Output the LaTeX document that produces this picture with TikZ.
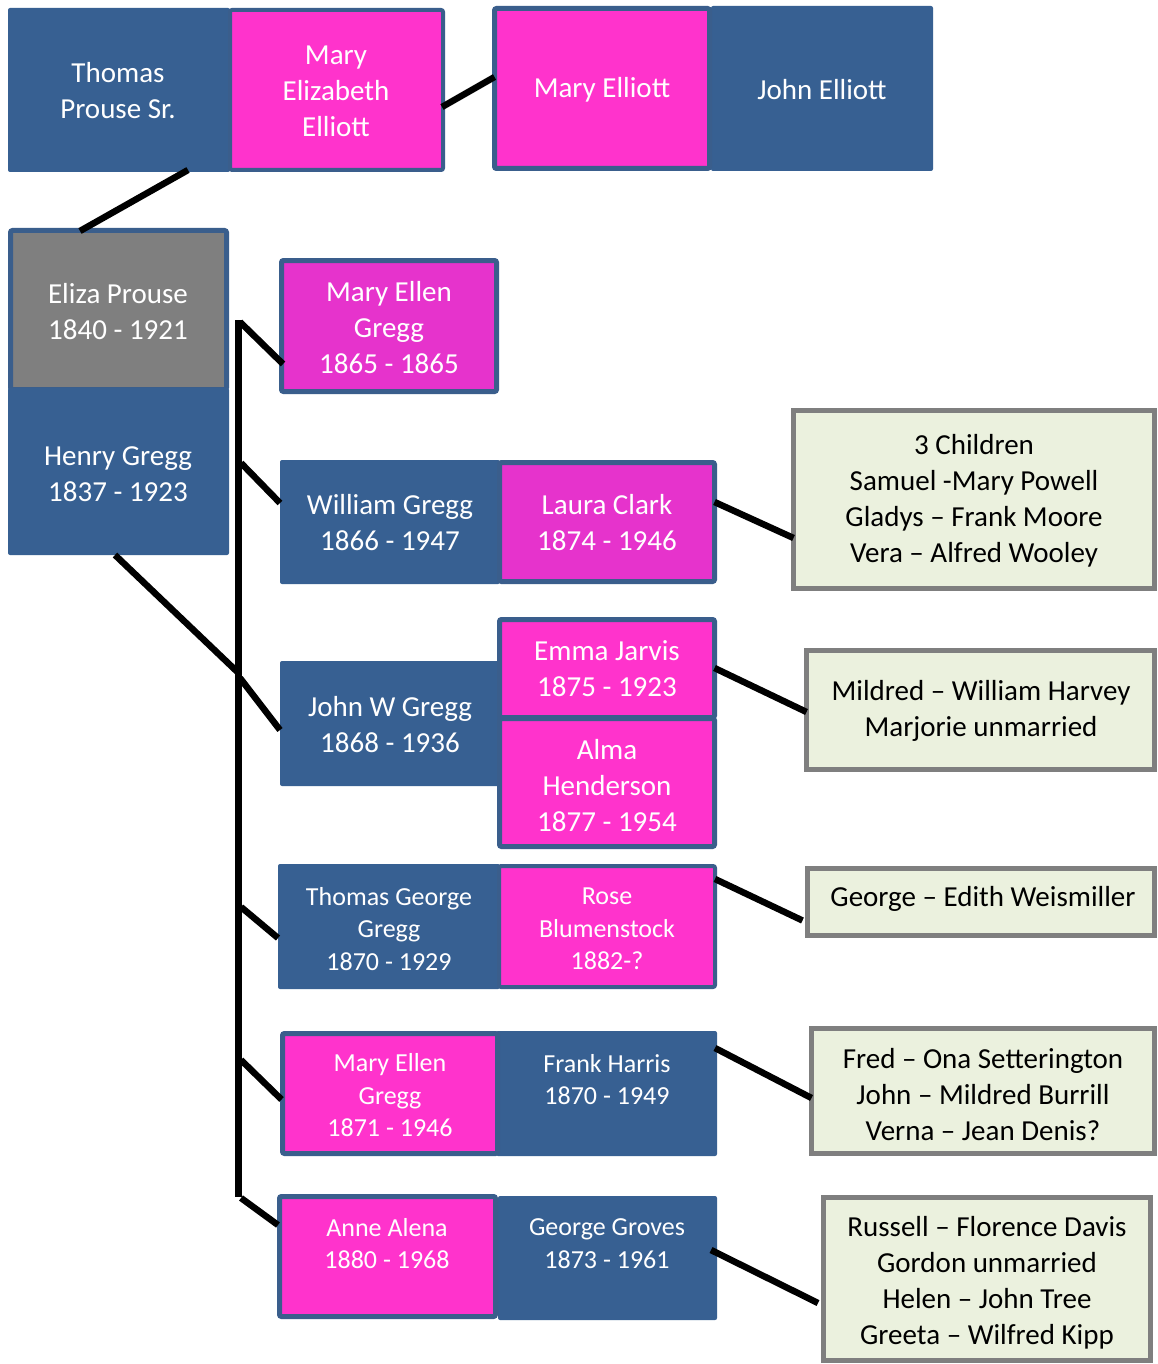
\documentclass[tikz,border=0pt]{standalone}
\usepackage{fontspec}
\setmainfont{Carlito}
\usetikzlibrary{calc}
\definecolor{fblue}{HTML}{376092}
\definecolor{bblue}{HTML}{3A5E8C}
\definecolor{pinka}{HTML}{FF33CC}
\definecolor{pinkb}{HTML}{E633CC}
\definecolor{fgray}{HTML}{7F7F7F}
\definecolor{fgreen}{HTML}{EBF1DE}
\definecolor{bgray}{HTML}{7F7F7F}
\begin{document}
\begin{tikzpicture}[x=1pt,y=-1pt,
 box/.style={rectangle, anchor=north west, inner sep=0pt, outer sep=0pt, rounded corners=2pt},
 bluebox/.style={box, fill=fblue},
 pinkbox/.style={box, fill=pinka, draw=bblue, line width=5pt},
 pinkboxb/.style={box, fill=pinkb, draw=bblue, line width=5pt},
 graybox/.style={box, fill=fgray, draw=bblue, line width=5pt},
 notebox/.style={box, fill=fgreen, draw=bgray, line width=5pt, rounded corners=0pt},
 lbl/.style={align=center, inner sep=0pt, text=white, font=\fontsize{29}{36}\selectfont},
 lbls/.style={align=center, inner sep=0pt, text=white, font=\fontsize{26}{32.5}\selectfont},
 lbln/.style={align=center, inner sep=0pt, text=black, font=\fontsize{29}{36}\selectfont},
 link/.style={line width=6.5pt, black},
]
\useasboundingbox (0,0) rectangle (1157,1364);
\fill[white] (0,0) rectangle (1157,1364);

% boxes
\node[bluebox, minimum width=222pt, minimum height=164pt] (thomas) at (8,8) {};
\node[pinkbox, line width=4pt, minimum width=213pt, minimum height=160pt] (maryeliz) at (230,10) {};
\node[bluebox, minimum width=222pt, minimum height=165pt] (johnelliott) at (711,6) {};
\node[pinkbox, minimum width=215pt, minimum height=160pt] (maryelliott) at (494.5,8.5) {};
\node[graybox, minimum width=216pt, minimum height=159pt] (eliza) at (10.5,230.5) {};
\node[bluebox, minimum width=221pt, minimum height=167pt] (henry) at (8,388) {};
\node[pinkboxb, minimum width=215pt, minimum height=131pt] (maryellen1) at (281.5,260.5) {};
\node[bluebox, minimum width=220pt, minimum height=124pt] (william) at (280,460) {};
\node[pinkboxb, minimum width=215pt, minimum height=119pt] (laura) at (499.5,462.5) {};
\node[notebox, minimum width=361pt, minimum height=178pt] (children) at (793.5,410.5) {};
\node[bluebox, minimum width=220pt, minimum height=125pt] (johnw) at (280,661) {};
\node[pinkbox, minimum width=215pt, minimum height=98pt] (emma) at (499.5,619.5) {};
\node[pinkbox, minimum width=215pt, minimum height=128pt] (alma) at (499.5,718.5) {};
\node[notebox, minimum width=348pt, minimum height=119pt] (mildred) at (806.5,650.5) {};
\node[bluebox, minimum width=222pt, minimum height=125pt] (thomasg) at (278,864) {};
\node[pinkbox, line width=4pt, minimum width=216pt, minimum height=121pt] (rose) at (499,866) {};
\node[notebox, minimum width=347pt, minimum height=67pt] (georgeedith) at (807.5,868.5) {};
\node[bluebox, minimum width=221pt, minimum height=125pt] (frank) at (496,1031) {};
\node[pinkbox, minimum width=215pt, minimum height=120pt] (maryellen2) at (282.5,1033.5) {};
\node[notebox, minimum width=343pt, minimum height=125pt] (fred) at (811.5,1028.5) {};
\node[bluebox, minimum width=219pt, minimum height=124pt] (groves) at (498,1196) {};
\node[pinkbox, minimum width=216pt, minimum height=120pt] (anne) at (279.5,1196.5) {};
\node[notebox, minimum width=327pt, minimum height=163pt] (russell) at (823.5,1197.5) {};

% labels
\node[lbl] (tthomas) at (118,91) {Thomas\\Prouse Sr.};
\node[lbl] (tmaryeliz) at (336,91) {Mary\\Elizabeth\\Elliott};
\node[lbl] (tmaryelliott) at (602,90) {Mary Elliott};
\node[lbl] (tjohnelliott) at (822,90) {John Elliott};
\node[lbl] (teliza) at (118,312) {Eliza Prouse\\1840 - 1921};
\node[lbl] (thenry) at (118,474) {Henry Gregg\\1837 - 1923};
\node[lbl] (tmaryellen1) at (389,328) {Mary Ellen\\Gregg\\1865 - 1865};
\node[lbl] (twilliam) at (390,523) {William Gregg\\1866 - 1947};
\node[lbl] (tlaura) at (607,523) {Laura Clark\\1874 - 1946};
\node[lbln] (tchildren) at (974,500.5) {3 Children\\Samuel -Mary Powell\\Gladys – Frank Moore\\Vera – Alfred Wooley};
\node[lbl] (tjohnw) at (390,724.5) {John W Gregg\\1868 - 1936};
\node[lbl] (temma) at (607,669) {Emma Jarvis\\1875 - 1923};
\node[lbl] (talma) at (607,786) {Alma\\Henderson\\1877 - 1954};
\node[lbln] (tmildred) at (981,711) {Mildred – William Harvey\\Marjorie unmarried};
\node[lbls] (tthomasg) at (389,929) {Thomas George\\Gregg\\1870 - 1929};
\node[lbls] (trose) at (607,929) {Rose\\Blumenstock\\1882-?};
\node[lbln] (tgeorge) at (983,899) {George – Edith Weismiller};
\node[lbls] (tmaryellen2) at (390,1095.5) {Mary Ellen\\Gregg\\1871 - 1946};
\node[lbls] (tfrank) at (607,1079.5) {Frank Harris\\1870 - 1949};
\node[lbln] (tfred) at (983,1094.5) {Fred – Ona Setterington\\John – Mildred Burrill\\Verna – Jean Denis?};
\node[lbls] (tanne) at (387,1243.5) {Anne Alena\\1880 - 1968};
\node[lbls] (tgroves) at (607,1243.5) {George Groves\\1873 - 1961};
\node[lbln] (trussell) at (987,1282.5) {Russell – Florence Davis\\Gordon unmarried\\Helen – John Tree\\Greeta – Wilfred Kipp};

% connectors
\coordinate (bartop) at (238.5,320);
\coordinate (barbot) at (238.5,1197);
\coordinate (barj) at (238.5,673);
\draw[link] (bartop) -- (barbot);
\draw[link] ($(maryeliz.north east)+(-1,97)$) -- ($(maryelliott.north west)+(0,68.5)$);
\draw[link] ($(thomas.south west)+(180,-2)$) -- ($(eliza.north west)+(69.5,0.5)$);
\draw[link] ($(bartop)+(1.5,2)$) -- ($(maryellen1.north west)+(1.5,103.5)$);
\draw[link] ($(bartop)+(2.5,143)$) -- ($(william.north west)+(0,43)$);
\draw[link] ($(henry.south west)+(107,0)$) -- (barj);
\draw[link] ($(barj)+(1.5,5)$) -- ($(johnw.north west)+(0,69)$);
\draw[link] ($(bartop)+(2.5,587)$) -- ($(thomasg.north west)+(0,74)$);
\draw[link] ($(bartop)+(2.5,740)$) -- ($(maryellen2.north west)+(-1,66)$);
\draw[link] ($(barbot)+(2.5,1)$) -- ($(anne.north west)+(-1.5,28.5)$);
\draw[link] ($(laura.north east)+(0,39.5)$) -- ($(children.north west)+(0,127.5)$);
\draw[link] ($(emma.north east)+(0,48.5)$) -- ($(mildred.north west)+(0,61.5)$);
\draw[link] ($(rose.north east)+(0,13)$) -- ($(georgeedith.north west)+(-5,52)$);
\draw[link] ($(frank.north east)+(-2,17)$) -- ($(fred.north west)+(0,69.5)$);
\draw[link] ($(groves.north east)+(-6,54)$) -- ($(russell.north west)+(-5.5,105.5)$);
\end{tikzpicture}
\end{document}
